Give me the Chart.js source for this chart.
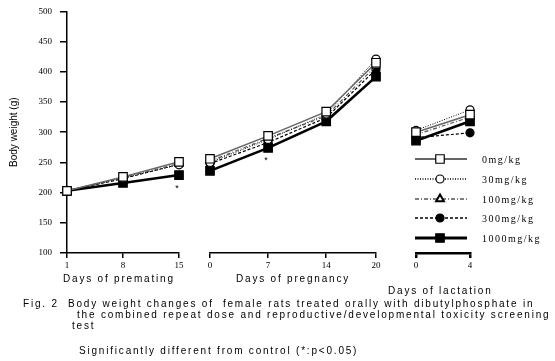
<!DOCTYPE html>
<html><head><meta charset="utf-8">
<script src="https://cdn.jsdelivr.net/npm/chart.js@4/dist/chart.umd.min.js"></script>
<style>
body{margin:0;width:555px;height:361px;background:#fff;position:relative;overflow:hidden;font-family:"Liberation Sans",Arial,sans-serif;}
canvas{position:absolute;top:-2px;}
.t{position:absolute;font-size:10px;line-height:12px;letter-spacing:1.8px;white-space:pre;color:#000;}
</style></head><body>
<canvas id="c1" width="195" height="277" style="left:0"></canvas>
<canvas id="c2" width="190" height="277" style="left:195px"></canvas>
<canvas id="c3" width="160" height="277" style="left:395px"></canvas>
<div class="t" style="left:63px;top:273px">Days of premating</div>
<div class="t" style="left:236px;top:273px">Days of pregnancy</div>
<div class="t" style="left:388px;top:285px">Days of lactation</div>
<div class="t" style="left:23px;top:298px">Fig. 2  Body weight changes of  female rats treated orally with dibutylphosphate in</div>
<div class="t" style="left:77px;top:309px">the combined repeat dose and reproductive/developmental toxicity screening</div>
<div class="t" style="left:72px;top:320px">test</div>
<div class="t" style="left:79px;top:345px">Significantly different from control (*:p&lt;0.05)</div>
<script>
// ---- data ----
const seriesLabels = ['0mg/kg','30mg/kg','100mg/kg','300mg/kg','1000mg/kg'];
const premDays = [1, 8, 15];
const premVals = [
  [203, 226, 251],
  [203, 224, 246],
  [203, 225, 248],
  [203, 223, 247],
  [203, 216, 229]
];
const premSig = [false, false, true];
const pregDays = [0, 7, 14, 20];
const pregVals = [
  [256, 294, 334, 415],
  [250, 288, 330, 421],
  [252, 290, 327, 410],
  [248, 283, 324, 404],
  [236, 274, 318, 392]
];
const pregSig = [false, true, false, false];
const lactDays = [0, 4];
const lactVals = [
  [300, 329],
  [303, 337],
  [296, 325],
  [291, 299],
  [286, 318]
];
const lactSig = [false, false];
const yTicks = [100,150,200,250,300,350,400,450,500];

// ---- styles ----
const styles = [
  {color:'#666', width:1.5, dash:[], point:'rect', radius:6, fill:'#fff', pborder:'#000'},
  {color:'#000', width:1, dash:[1,1.5], point:'circle', radius:4, fill:'#fff', pborder:'#000'},
  {color:'#555', width:1.2, dash:[4,2,1,2], point:'triangle', radius:4.5, fill:'#fff', pborder:'#000'},
  {color:'#000', width:1.2, dash:[3,2], point:'circle', radius:4, fill:'#000', pborder:'#000'},
  {color:'#000', width:2.6, dash:[], point:'rect', radius:6, fill:'#000', pborder:'#000'}
];
const serif = "'Liberation Serif','Times New Roman',serif";
const sans = "'Liberation Sans',Arial,sans-serif";

function makeDatasets(days, vals){
  return vals.map((v,i)=>({
    label: seriesLabels[i],
    data: days.map((d,j)=>({x:d, y:v[j]})),
    borderColor: styles[i].color,
    borderWidth: styles[i].width,
    borderDash: styles[i].dash,
    pointStyle: styles[i].point,
    pointRadius: styles[i].radius,
    pointBackgroundColor: styles[i].fill,
    pointBorderColor: styles[i].pborder,
    pointBorderWidth: 1.2,
    tension: 0,
    clip: false
  }));
}

const sigPlugin = {
  id:'sig',
  afterDatasetsDraw(chart, args, opts){
    const sig = opts.flags || [];
    const meta = chart.getDatasetMeta(4);
    const ctx = chart.ctx;
    ctx.save();
    ctx.fillStyle = '#000';
    ctx.font = '9px ' + sans;
    ctx.textAlign = 'center';
    ctx.textBaseline = 'middle';
    sig.forEach((s,i)=>{ if(s){ const p = meta.data[i]; ctx.fillText('*', p.x - 2, p.y + 13); } });
    ctx.restore();
  }
};

const legendPlugin = {
  id:'customLegend',
  afterDraw(chart){
    const ctx = chart.ctx;
    const rows = [161,181,201,220,240];
    ctx.save();
    seriesLabels.forEach((lab,i)=>{
      const s = styles[i];
      const y = rows[i];
      ctx.strokeStyle = s.color;
      ctx.lineWidth = s.width + 0.4;
      ctx.setLineDash(s.dash);
      ctx.beginPath(); ctx.moveTo(20, y); ctx.lineTo(72, y); ctx.stroke();
      ctx.setLineDash([]);
      ctx.fillStyle = s.fill; ctx.strokeStyle = s.pborder; ctx.lineWidth = s.point==='triangle'?2:1.2;
      Chart.helpers.drawPoint(ctx, {pointStyle:s.point, radius: s.radius, rotation:0, borderWidth:1.2}, 45, y);
      ctx.fillStyle = '#000';
      ctx.font = '10px ' + serif;
      if ('letterSpacing' in ctx) ctx.letterSpacing = '1.5px';
      ctx.textAlign = 'left'; ctx.textBaseline = 'middle';
      ctx.fillText(lab, 87, y + 1);
      if ('letterSpacing' in ctx) ctx.letterSpacing = '0px';
    });
    ctx.restore();
  }
};

function xScale(days, bw){
  return {
    type:'linear', min: days[0], max: days[days.length-1],
    afterBuildTicks: s => { s.ticks = days.map(v=>({value:v})); },
    afterFit: s => { s.height = 22; },
    border:{display:true, color:'#000', width:bw},
    grid:{display:true, drawOnChartArea:false, drawTicks:true, tickLength:5, color:'#000', lineWidth:bw},
    ticks:{color:'#000', font:{family:serif, size:9}, padding:2, maxRotation:0, autoSkip:false}
  };
}
function yScale(show){
  return {
    type:'linear', min:100, max:500, display: show,
    afterBuildTicks: s => { s.ticks = yTicks.map(v=>({value:v})); },
    afterFit: s => { if (show) s.width = 67; else s.width = 0; },
    border:{display:true, color:'#000', width:1.5},
    grid:{display:true, drawOnChartArea:false, drawTicks:true, tickLength:7, color:'#000', lineWidth:1.5},
    ticks:{color:'#000', font:{family:serif, size:9}, padding:8},
    title:{display:show, text:'Body weight (g)', color:'#000', font:{family:sans, size:10}, padding:{top:8,bottom:0}}
  };
}
function makeChart(id, days, vals, sig, pad, bw, showY, extra){
  return new Chart(document.getElementById(id), {
    type:'line',
    data:{datasets: makeDatasets(days, vals)},
    options:{
      responsive:false, animation:false, devicePixelRatio:1,
      layout:{padding:pad},
      plugins:{legend:{display:false}, tooltip:{enabled:false}, sig:{flags:sig}},
      scales:{x: xScale(days, bw), y: yScale(showY)}
    },
    plugins: [sigPlugin].concat(extra||[])
  });
}
makeChart('c1', premDays, premVals, premSig, {top:13.4, right:16, bottom:0, left:0}, 1.5, true);
makeChart('c2', pregDays, pregVals, pregSig, {top:13.4, right:9, bottom:0, left:15}, 1.5, false);
makeChart('c3', lactDays, lactVals, lactSig, {top:13.4, right:85, bottom:0, left:21}, 2.5, false, [legendPlugin]);
</script>
</body></html>
